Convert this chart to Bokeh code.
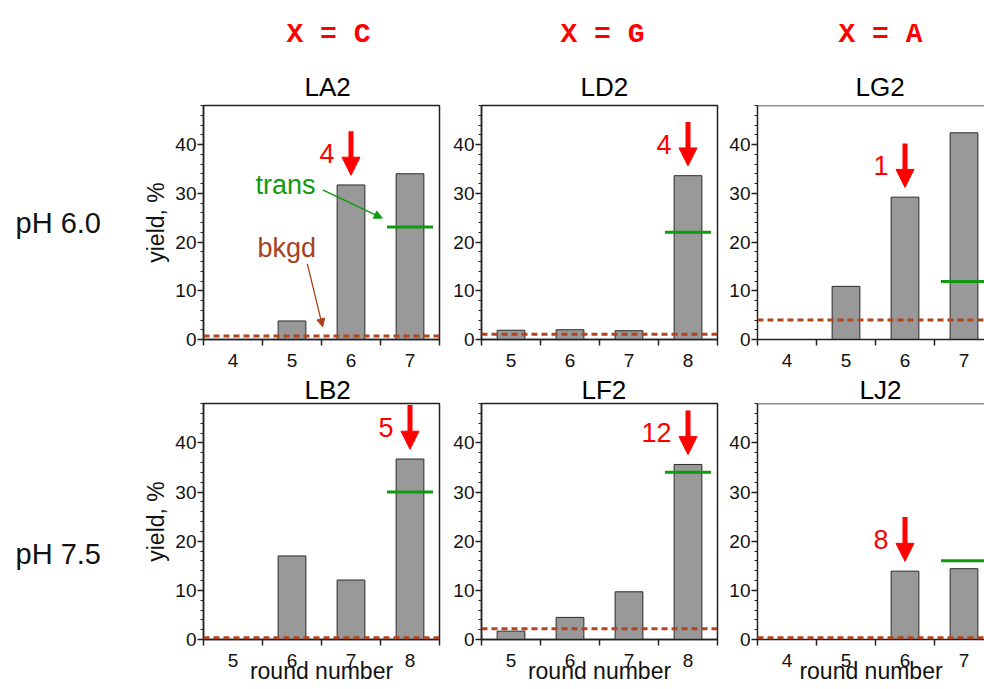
from bokeh.plotting import figure
from bokeh.layouts import row, column
from bokeh.models import Range1d, FixedTicker, Span, Arrow, NormalHead, Title
from bokeh.embed import file_html
from bokeh.resources import INLINE
from bokeh.core.properties import value

# ---------------- data ----------------
panel_names = ["LA2", "LD2", "LG2", "LB2", "LF2", "LJ2"]
rounds_LA2 = [4, 5, 6, 7]
yield_LA2 = [0.0, 3.8, 31.7, 34.0]
rounds_LD2 = [5, 6, 7, 8]
yield_LD2 = [1.9, 2.0, 1.8, 33.6]
rounds_LG2 = [4, 5, 6, 7]
yield_LG2 = [0.0, 10.9, 29.2, 42.4]
rounds_LB2 = [5, 6, 7, 8]
yield_LB2 = [0.0, 17.0, 12.1, 36.7]
rounds_LF2 = [5, 6, 7, 8]
yield_LF2 = [1.7, 4.5, 9.7, 35.6]
rounds_LJ2 = [4, 5, 6, 7]
yield_LJ2 = [0.0, 0.0, 13.9, 14.4]
trans_round = [7, 8, 7, 8, 8, 7]
trans_level = [23.1, 22.0, 11.9, 30.0, 34.0, 16.0]
bkgd_level = [0.7, 1.1, 4.0, 0.35, 2.2, 0.35]
arrow_round = [6, 8, 6, 8, 8, 6]
arrow_label = ["4", "4", "1", "5", "12", "8"]
column_headers = ["X = C", "X = G", "X = A"]
row_labels = ["pH 6.0", "pH 7.5"]
y_major_ticks = [0, 10, 20, 30, 40]
y_minor_ticks = [2, 4, 6, 8, 12, 14, 16, 18, 22, 24, 26, 28, 32, 34, 36, 38, 42, 44, 46, 48]
y_max = 48
x_label = "round number"
y_label = "yield, %"
trans_text = "trans"
bkgd_text = "bkgd"

rounds_all = [rounds_LA2, rounds_LD2, rounds_LG2, rounds_LB2, rounds_LF2, rounds_LJ2]
yields_all = [yield_LA2, yield_LD2, yield_LG2, yield_LB2, yield_LF2, yield_LJ2]

# ---------------- layout / style ----------------
FONT = "Liberation Sans"
LABEL_W = 128
COL_W = [322, 275, 259]
COL_BL = [75, 31, 32]
COL_BR = [11, 8, 0]
ROW_H = [370, 319]
ROW_BT = [103, 33]
ROW_BB = [31, 50]
FULL_FRAME = 236.0
FRAME_H = 236
AX_COL = "#222222"
TXT_COL = "#111111"
RED = "#FF0000"
GREEN = "#109A10"
BROWN = "#A8401C"
BKGD_LINE = "#B4441A"
# left-aligned title offsets (px from frame left edge)
HEADER_OFFSETS = [83, 79, 81]
TITLE_OFFSETS = [101, 99, 98, 101, 100, 102]
ROW_LABEL_Y = [119, 150]   # px below the top of each row's plot frame


def make_panel(idx, r, c):
    rounds = rounds_all[idx]
    yields = yields_all[idx]
    fw = COL_W[c] - COL_BL[c] - COL_BR[c]
    x0 = min(rounds) - 0.5
    x_full_end = max(rounds) + 0.5
    x1 = x0 + (x_full_end - x0) * fw / FULL_FRAME
    p = figure(width=COL_W[c], height=ROW_H[r], x_range=Range1d(x0, x1),
               y_range=Range1d(0, y_max), output_backend="svg",
               toolbar_location=None, min_border_left=COL_BL[c],
               min_border_right=COL_BR[c], min_border_top=ROW_BT[r],
               min_border_bottom=ROW_BB[r])
    p.background_fill_color = "white"
    p.border_fill_color = "white"
    p.xgrid.visible = False
    p.ygrid.visible = False
    if c < 2:
        p.outline_line_color = AX_COL
        p.outline_line_width = 1.5
        p.outline_line_alpha = 1.0
    else:
        p.outline_line_color = None
        p.add_layout(Span(location=y_max, dimension="width", line_color=AX_COL, line_width=1.5))

    # titles: panel name closest to the frame, column header (row 1) outermost
    name_kw = dict(text_font=FONT, text_font_size="26px", text_font_style="normal",
                   text_color="black", align="left", offset=TITLE_OFFSETS[idx])
    if r == 0:
        p.title.text = column_headers[c]
        p.title.text_font = "Liberation Mono"
        p.title.text_font_size = "28px"
        p.title.text_font_style = "bold"
        p.title.text_color = RED
        p.title.align = "left"
        p.title.offset = HEADER_OFFSETS[c]
        p.title.standoff = 32
        p.add_layout(Title(text=panel_names[idx], standoff=8, **name_kw), "above")
    else:
        p.title.text = panel_names[idx]
        for k, v in name_kw.items():
            setattr(p.title, k, v)
        p.title.standoff = -3

    # x axis
    xa = p.xaxis[0]
    minor = [x - 0.5 for x in rounds] + [max(rounds) + 0.5]
    xa.ticker = FixedTicker(ticks=rounds, minor_ticks=minor)
    xa.major_tick_line_color = None
    xa.major_tick_out = 6
    xa.major_tick_in = 0
    xa.minor_tick_line_color = AX_COL
    xa.minor_tick_line_width = 1.5
    xa.minor_tick_out = 6
    xa.minor_tick_in = 0
    xa.axis_line_color = AX_COL
    xa.axis_line_width = 1.5
    xa.major_label_text_font = FONT
    xa.major_label_text_font_size = "19px"
    xa.major_label_text_color = TXT_COL
    xa.major_label_standoff = 8
    if r == 1:
        xa.axis_label = x_label
        xa.axis_label_text_font = FONT
        xa.axis_label_text_font_size = "23px"
        xa.axis_label_text_font_style = "normal"
        xa.axis_label_text_color = TXT_COL
        xa.axis_label_standoff = -12

    # y axis
    ya = p.yaxis[0]
    ya.ticker = FixedTicker(ticks=y_major_ticks, minor_ticks=y_minor_ticks)
    ya.major_tick_line_color = AX_COL
    ya.major_tick_line_width = 1.5
    ya.major_tick_out = 6
    ya.major_tick_in = 0
    ya.minor_tick_line_color = AX_COL
    ya.minor_tick_line_width = 1.2
    ya.minor_tick_out = 3
    ya.minor_tick_in = 0
    ya.axis_line_color = AX_COL
    ya.axis_line_width = 1.5
    ya.major_label_text_font = FONT
    ya.major_label_text_font_size = "19px"
    ya.major_label_text_color = TXT_COL
    ya.major_label_standoff = 1
    if c == 0:
        ya.axis_label = y_label
        ya.axis_label_text_font = FONT
        ya.axis_label_text_font_size = "23px"
        ya.axis_label_text_font_style = "normal"
        ya.axis_label_text_color = TXT_COL
        ya.axis_label_standoff = 3

    # bars
    p.vbar(x=rounds, top=yields, bottom=0, width=0.47, fill_color="#999999",
           line_color="#2a2a2a", line_width=1)

    # background level
    p.add_layout(Span(location=bkgd_level[idx], dimension="width", line_color=BKGD_LINE,
                      line_width=3, line_dash="6 4"))

    # trans level
    tr = trans_round[idx]
    p.segment(x0=[tr - 0.39], x1=[tr + 0.39], y0=[trans_level[idx]], y1=[trans_level[idx]],
              line_color=GREEN, line_width=3)

    # red arrow and label
    ar = arrow_round[idx]
    bar_val = yields[rounds.index(ar)]
    tip = bar_val + 2.0
    top = tip + 9.0
    p.add_layout(Arrow(end=NormalHead(size=18, fill_color=RED, line_color=RED, line_width=1),
                       x_start=ar, y_start=top, x_end=ar, y_end=tip,
                       line_color=RED, line_width=5))
    p.text(x=[ar - 0.28], y=[(top + tip) / 2], text=[arrow_label[idx]],
           text_align="right", text_baseline="middle", text_font=value(FONT),
           text_font_size="27px", text_color=RED)

    if idx == 0:
        p.text(x=[4.89], y=[31.7], text=[trans_text], text_align="center",
               text_baseline="middle", text_font=value(FONT), text_font_size="27px",
               text_color=GREEN)
        p.add_layout(Arrow(end=NormalHead(size=8, fill_color=GREEN, line_color=GREEN),
                           x_start=5.52, y_start=30.7, x_end=6.53, y_end=24.9,
                           line_color=GREEN, line_width=1.5))
        p.text(x=[4.91], y=[18.8], text=[bkgd_text], text_align="center",
               text_baseline="middle", text_font=value(FONT), text_font_size="27px",
               text_color=BROWN)
        p.add_layout(Arrow(end=NormalHead(size=8, fill_color=BROWN, line_color=BROWN),
                           x_start=5.26, y_start=15.5, x_end=5.52, y_end=2.6,
                           line_color=BROWN, line_width=1.3))
    return p


def make_row_label(r):
    # the row layout aligns this figure's frame with the panel frames of its row,
    # so the y range is expressed in px measured downward from the frame top
    h = ROW_H[r]
    p = figure(width=LABEL_W, height=h, x_range=Range1d(0, LABEL_W),
               y_range=Range1d(FRAME_H, 0), output_backend="svg",
               toolbar_location=None, x_axis_type=None, y_axis_type=None,
               min_border=0, min_border_left=0, min_border_right=0,
               min_border_top=ROW_BT[r], min_border_bottom=ROW_BB[r],
               title_location=None)
    p.outline_line_color = None
    p.xgrid.visible = False
    p.ygrid.visible = False
    p.text(x=[15], y=[ROW_LABEL_Y[r]], text=[row_labels[r]], text_align="left",
           text_baseline="middle", text_font=value(FONT), text_font_size="29px",
           text_color=TXT_COL)
    return p


rows = []
for r in range(2):
    figs = [make_row_label(r)]
    for c in range(3):
        figs.append(make_panel(r * 3 + c, r, c))
    rows.append(row(*figs, spacing=0))
layout = column(*rows, spacing=0)

open("out.html", "w").write(file_html(layout, INLINE))
